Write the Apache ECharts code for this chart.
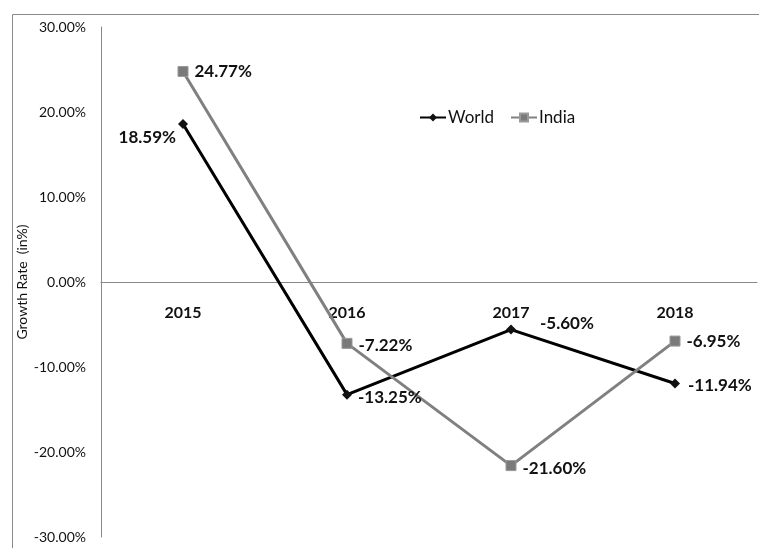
<!DOCTYPE html>
<html>
<head>
<meta charset="utf-8">
<script src="https://cdn.jsdelivr.net/npm/echarts@6/dist/echarts.min.js"></script>
<style>html,body{margin:0;padding:0;background:#fff;}#c{width:759px;height:548px;}</style>
</head>
<body>
<div id="c"></div>
<script>
const years = ['2015', '2016', '2017', '2018'];
const world = [18.59, -13.25, -5.60, -11.94];
const india = [24.77, -7.22, -21.60, -6.95];
const yTicks = [-30, -20, -10, 0, 10, 20, 30];

const FONT = 'Lato, "Open Sans", sans-serif';
const chart = echarts.init(document.getElementById('c'));
const lbl = (v) => v.toFixed(2) + '%';
const gridTop = 27, gridBottom = 11, H = 548;
const plotH = H - gridTop - gridBottom;
const yMin = yTicks[0], yMax = yTicks[yTicks.length - 1];
// shift the category axis up so it sits on the zero line
const zeroShift = -plotH * (0 - yMin) / (yMax - yMin);
chart.setOption({
  animation: false,
  backgroundColor: '#fff',
  textStyle: { fontFamily: FONT },
  graphic: [{
    type: 'rect', left: 10, top: 12,
    shape: { width: 747, height: 560 },
    style: { fill: 'none', stroke: '#8a8a8a', lineWidth: 1 },
    silent: true
  }],
  legend: {
    left: 414, top: 104,
    itemWidth: 26, itemHeight: 10, itemGap: 16,
    textStyle: { fontSize: 17, color: '#111', fontFamily: FONT, padding: [0, 0, 0, -3] },
    data: ['World', 'India']
  },
  grid: { left: 101, right: 2, top: gridTop, bottom: gridBottom, containLabel: false, outerBoundsMode: 'none' },
  xAxis: {
    type: 'category', data: years, boundaryGap: true,
    position: 'bottom', offset: zeroShift,
    axisLine: { onZero: false, lineStyle: { color: '#888', width: 1 } },
    axisTick: { show: false },
    axisLabel: { fontSize: 16, fontWeight: 'bold', color: '#111', margin: 23, fontFamily: FONT },
    splitLine: { show: false }
  },
  yAxis: {
    type: 'value', min: yMin, max: yMax, interval: 10,
    name: 'Growth Rate  (in%)', nameLocation: 'middle', nameGap: 72, nameRotate: 90,
    nameMoveOverlap: false,
    nameTextStyle: { fontSize: 14, color: '#111', fontFamily: FONT },
    axisLine: { show: true, lineStyle: { color: '#888', width: 1 } },
    axisTick: { show: false },
    splitLine: { show: false },
    axisLabel: { fontSize: 14, color: '#111', margin: 15, formatter: (v) => v.toFixed(2) + '%', fontFamily: FONT }
  },
  series: [
    {
      name: 'World', type: 'line',
      symbol: 'diamond', symbolSize: 10,
      lineStyle: { color: '#000', width: 3 },
      itemStyle: { color: '#111' },
      label: {
        show: true, fontSize: 17, fontWeight: 'bold', color: '#111', fontFamily: FONT,
        formatter: (p) => lbl(p.value),
        position: 'right', distance: 6
      },
      data: world.map((v, i) => {
        const d = { value: v };
        if (i === 0) d.label = { position: 'left', offset: [4, 14] };
        if (i === 1) d.label = { offset: [0, 3] };
        if (i === 2) d.label = { offset: [18, -6] };
        if (i === 3) d.label = { offset: [2, 2] };
        return d;
      })
    },
    {
      name: 'India', type: 'line',
      symbol: 'rect', symbolSize: 10,
      lineStyle: { color: '#808080', width: 3 },
      itemStyle: { color: '#7a7a7a', borderColor: '#999', borderWidth: 1 },
      label: {
        show: true, fontSize: 17, fontWeight: 'bold', color: '#111', fontFamily: FONT,
        formatter: (p) => lbl(p.value),
        position: 'right', distance: 6
      },
      data: india.map((v, i) => {
        const d = { value: v };
        if (i === 1) d.label = { offset: [0, 2] };
        if (i === 2) d.label = { offset: [0, 3] };
        return d;
      })
    }
  ]
});
</script>
</body>
</html>
